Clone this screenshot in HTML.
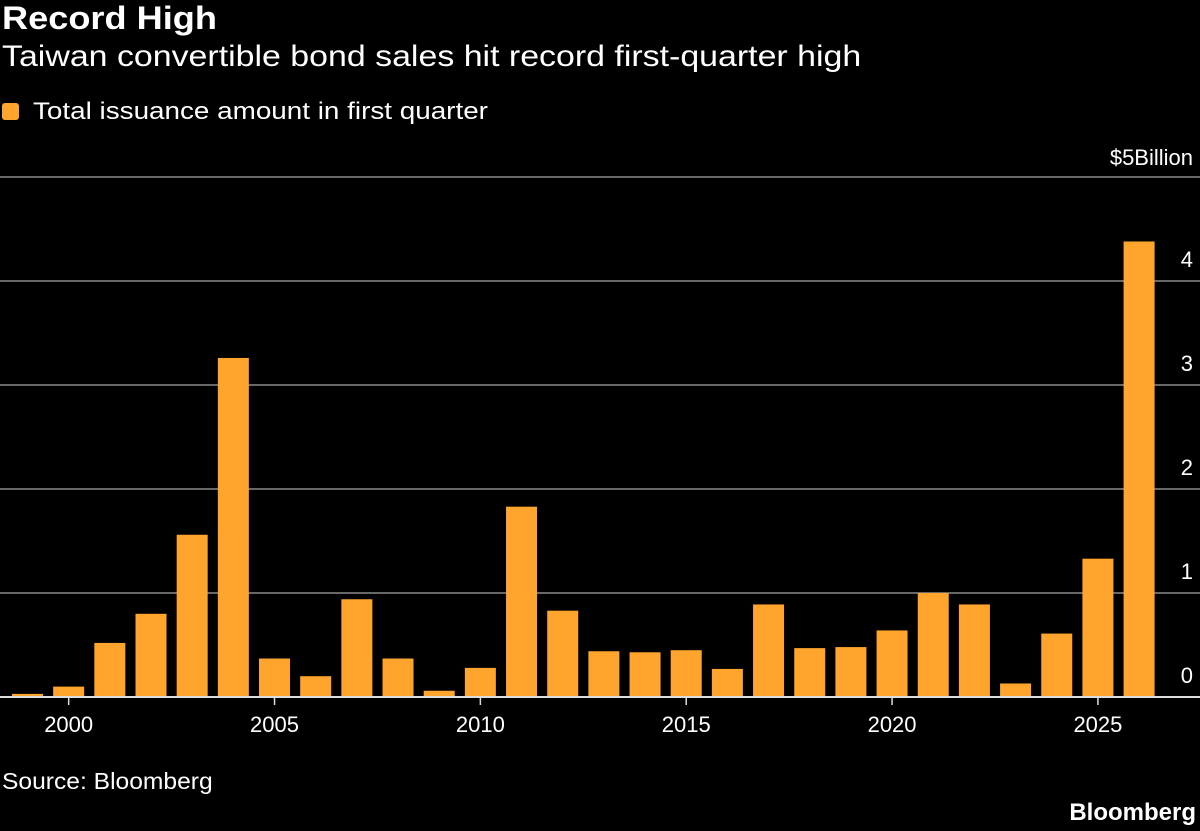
<!DOCTYPE html>
<html><head><meta charset="utf-8"><style>
body{margin:0;background:#000;width:1200px;height:831px;overflow:hidden;font-family:"Liberation Sans","DejaVu Sans",sans-serif;color:#fff}
.t{position:absolute;white-space:nowrap;transform-origin:left top}
</style></head><body>
<div class="t" style="left:2px;top:0px;font-size:32px;font-weight:bold;transform:scaleX(1.13)">Record High</div>
<div class="t" style="left:2px;top:40px;font-size:30px;transform:scaleX(1.13)">Taiwan convertible bond sales hit record first-quarter high</div>
<div class="t" style="left:2px;top:98px;font-size:24px"><span style="display:inline-block;width:17px;height:17px;background:#ffa52e;border-radius:3px;margin-right:14px;vertical-align:-1px"></span><span style="display:inline-block;transform:scaleX(1.16);transform-origin:left center">Total issuance amount in first quarter</span></div>
<svg id="c" width="1200" height="831" style="position:absolute;left:0;top:0"></svg>
<div class="t" style="left:2px;top:768px;font-size:23px;transform:scaleX(1.07)">Source: Bloomberg</div>
<div class="t" style="right:4px;top:799px;font-size:24px;font-weight:bold">Bloomberg</div>
<script>
const years=[1999,2000,2001,2002,2003,2004,2005,2006,2007,2008,2009,2010,2011,2012,2013,2014,2015,2016,2017,2018,2019,2020,2021,2022,2023,2024,2025,2026];
const values=[0.03,0.10,0.52,0.80,1.56,3.26,0.37,0.20,0.94,0.37,0.06,0.28,1.83,0.83,0.44,0.43,0.45,0.27,0.89,0.47,0.48,0.64,1.00,0.89,0.13,0.61,1.33,4.38];
const yTicks=[0,1,2,3,4,5];
const yTickLabels=["0","1","2","3","4","$5Billion"];
const xTicks=[2000,2005,2010,2015,2020,2025];
const NS="http://www.w3.org/2000/svg";
const svg=document.getElementById('c');
const y=v=>697-v*104;
const x=yr=>27.5+(yr-1999)*41.17;
function mk(t,a){const e=document.createElementNS(NS,t);for(const k in a)e.setAttribute(k,a[k]);svg.appendChild(e);return e;}
yTicks.forEach((v,i)=>{
  if(v>0){const g=mk('line',{x1:0,x2:1200,y1:y(v),y2:y(v),stroke:'#8a8a8a','stroke-width':1.5});
  
  }
  const t=mk('text',{x:1193,y:v===5?y(v)-12:y(v)-14,'text-anchor':'end',fill:'#fff','font-size':22,'font-family':'Liberation Sans, sans-serif'});
  t.textContent=yTickLabels[i];
  
  
});
years.forEach((yr,i)=>{
  const r=mk('rect',{x:x(yr)-15.5,y:y(values[i]),width:31,height:697-y(values[i]),fill:'#ffa52e'});
  
  
});
const ax=mk('line',{x1:0,x2:1200,y1:697,y2:697,stroke:'#ddd','stroke-width':2});


xTicks.forEach(yr=>{
  const tk=mk('line',{x1:x(yr),x2:x(yr),y1:697,y2:705,stroke:'#ddd','stroke-width':1.5});
  
  
  const t=mk('text',{x:x(yr),y:732,'text-anchor':'middle',fill:'#fff','font-size':22,'font-family':'Liberation Sans, sans-serif'});
  t.textContent=yr;
  
  
});
</script>
</body></html>
